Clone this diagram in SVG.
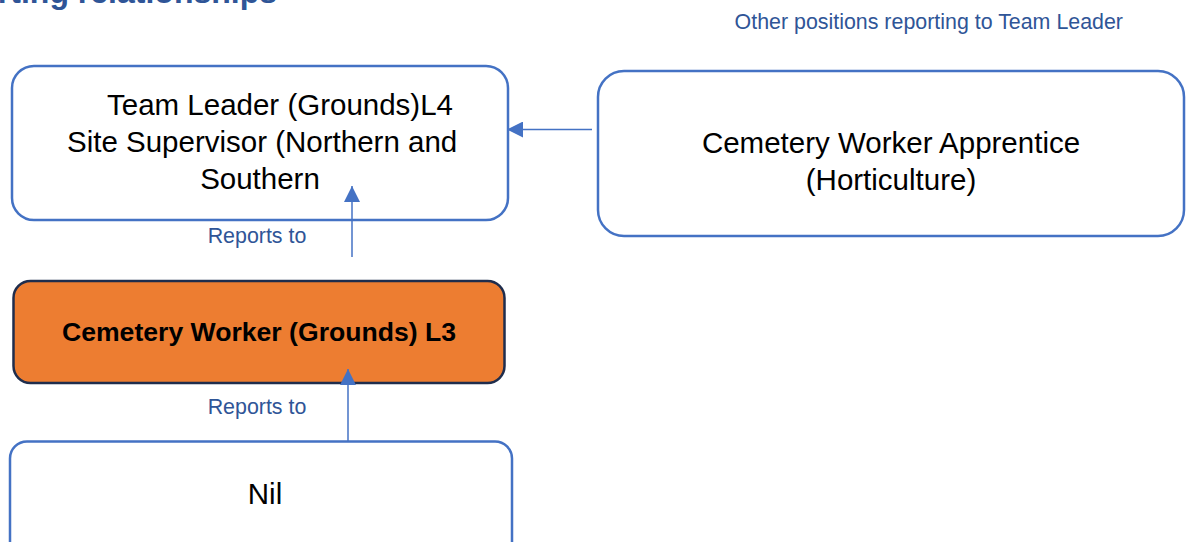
<svg xmlns="http://www.w3.org/2000/svg" width="1186" height="542" viewBox="0 0 1186 542">
  <style>
    .box { fill: #ffffff; stroke: #4472C4; stroke-width: 2.5; }
    .focus { fill: #ED7D31; stroke: #1F2D4D; stroke-width: 2.5; }
    .conn { stroke: #4472C4; stroke-width: 1.5; fill: none; }
    .txt { font-family: "Liberation Sans", Arial, sans-serif; font-size: 29.5px; fill: #000000; }
    .bold { font-family: "Liberation Sans", Arial, sans-serif; font-size: 26.6px; font-weight: bold; fill: #000000; }
    .lbl { font-family: "Liberation Sans", Arial, sans-serif; font-size: 21.4px; fill: #2F5597; }
    .title { font-family: "Liberation Sans", Arial, sans-serif; font-size: 32px; font-weight: bold; fill: #2F5597; }
  </style>
  <defs>
    <marker id="arrow" markerUnits="userSpaceOnUse" markerWidth="16" markerHeight="16" refX="16" refY="8" orient="auto">
      <path d="M0,0 L16,8 L0,16 z" fill="#4472C4"/>
    </marker>
  </defs>
  <rect width="1186" height="542" fill="#ffffff"/>
  <text class="title" x="277" y="3" text-anchor="end">Reporting relationships</text>
  <text class="lbl" x="1123" y="29" text-anchor="end">Other positions reporting to Team Leader</text>

  <g id="team-leader">
    <rect class="box" x="12" y="66" width="496" height="154" rx="22"/>
    <text class="txt" x="107" y="115">Team Leader (Grounds)L4</text>
    <text class="txt" x="67" y="152">Site Supervisor (Northern and</text>
    <text class="txt" x="260" y="189" text-anchor="middle">Southern</text>
  </g>

  <g id="apprentice">
    <rect class="box" x="598" y="71" width="586" height="165" rx="26"/>
    <text class="txt" x="891" y="153" text-anchor="middle">Cemetery Worker Apprentice</text>
    <text class="txt" x="891" y="190" text-anchor="middle">(Horticulture)</text>
  </g>

  <g id="cemetery-worker">
    <rect class="focus" x="13.5" y="281" width="491" height="102" rx="17"/>
    <text class="bold" x="259" y="341" text-anchor="middle">Cemetery Worker (Grounds) L3</text>
  </g>

  <g id="nil">
    <rect class="box" x="10" y="441.5" width="502" height="130" rx="17"/>
    <text class="txt" x="265" y="504" text-anchor="middle">Nil</text>
  </g>

  <g id="connectors">
    <line class="conn" x1="352" y1="257" x2="352" y2="186" marker-end="url(#arrow)"/>
    <line class="conn" x1="348" y1="441" x2="348" y2="369" marker-end="url(#arrow)"/>
    <line class="conn" x1="592" y1="129.5" x2="507" y2="129.5" marker-end="url(#arrow)"/>
    <text class="lbl" x="257" y="243" text-anchor="middle">Reports to</text>
    <text class="lbl" x="257" y="414" text-anchor="middle">Reports to</text>
  </g>
</svg>
